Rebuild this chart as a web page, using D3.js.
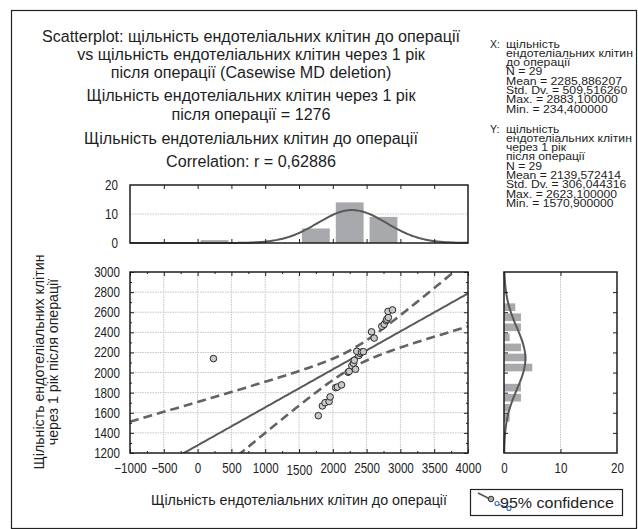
<!DOCTYPE html>
<html lang="uk">
<head>
<meta charset="UTF-8">
<title>Scatterplot</title>
<script src="https://cdn.jsdelivr.net/npm/d3@7"></script>
<style>
  body { margin: 0; background: #fff; }
  text { font-family: "Liberation Sans", Arial, sans-serif; fill: #1e1e1e; }
</style>
</head>
<body>
<div id="container"></div>
<script>
// ---- text content ----
const titleLines = [
  "Scatterplot: щільність ендотеліальних клітин до операції",
  "vs щільність ендотеліальних клітин через 1 рік",
  "після операції (Casewise MD deletion)",
  "Щільність ендотеліальних клітин через 1 рік",
  "після операції = 1276",
  "Щільність ендотеліальних клітин до операції",
  "Correlation: r = 0,62886"
];
const xStatsLines = ["щільність", "ендотеліальних клітин", "до операції", "N = 29",
  "Mean = 2285,886207", "Std. Dv. = 509,516260", "Max. = 2883,100000", "Min. = 234,400000"];
const yStatsLines = ["щільність", "ендотеліальних клітин", "через 1 рік", "після операції", "N = 29",
  "Mean = 2139,572414", "Std. Dv. = 306,044316", "Max. = 2623,100000", "Min. = 1570,900000"];
const xAxisTitle = "Щільність ендотеліальних клітин до операції";
const yAxisTitleLines = ["Щільність ендотеліальних клітин", "через 1 рік після операції"];
const legendLabel = "95% confidence";

// ---- ticks ----
const xTicks = [-1000, -500, 0, 500, 1000, 1500, 2000, 2500, 3000, 3500, 4000];
const yTicks = [1200, 1400, 1600, 1800, 2000, 2200, 2400, 2600, 2800, 3000];
const countTicks = [0, 10, 20];

// ---- cases: density before surgery (x) and 1 year after (y) ----
const preOp  = [234.4, 1786, 1846, 1885, 1945, 1960, 2043, 2068, 2129, 2226, 2242, 2281, 2306, 2336, 2318,
                2385, 2402, 2355, 2425, 2452, 2612, 2573, 2725, 2760, 2790, 2800, 2822, 2817, 2883.1];
const postOp = [2139, 1571, 1668, 1700, 1712, 1758, 1850, 1856, 1877, 2003, 2012, 2068, 2092, 2033, 2122,
                2170, 2192, 2212, 2204, 2208, 2343, 2405, 2460, 2480, 2516, 2530, 2548, 2608, 2623.1];

// ---- summary statistics ----
const nCases = 29;
const meanX = 2285.886207, sdX = 509.516260;
const meanY = 2139.572414, sdY = 306.044316;
const rCorr = 0.62886;
const tCrit = 2.052;       // t(0.975, 27)
const xBinWidth = 500, yBinWidth = 100;

const W = 638, H = 529;
const svg = d3.select("#container").append("svg").attr("width", W).attr("height", H);

// outer frame
svg.append("rect").attr("x", 11.5).attr("y", 10.5).attr("width", 625).attr("height", 518)
  .attr("fill", "none").attr("stroke", "#222").attr("stroke-width", 1.2);

// stretch a block of text lines so that one reference line has the given width
function stretchBlock(sel, refNode, refWidth) {
  const k = refWidth / refNode.getComputedTextLength();
  sel.each(function () {
    const w = this.getComputedTextLength();
    d3.select(this).attr("textLength", w * k).attr("lengthAdjust", "spacingAndGlyphs");
  });
}

// ---- title ----
const titleY = [41.5, 60, 78, 100.5, 119.5, 144, 166.5];
const titleSel = svg.append("g").selectAll("text").data(titleLines).join("text")
  .attr("x", 251).attr("y", (d, i) => titleY[i])
  .attr("text-anchor", "middle").attr("font-size", 16).text(d => d);
stretchBlock(titleSel, titleSel.nodes()[0], 418);

// ---- stats blocks ----
function statsBlock(label, lines, y0) {
  const g = svg.append("g");
  g.append("text").attr("x", 490).attr("y", y0).attr("font-size", 10.5).text(label);
  const t = g.selectAll("text.line").data(lines).join("text").attr("class", "line")
    .attr("x", 506).attr("y", (d, i) => y0 + i * 9.3).attr("font-size", 10.5).text(d => d);
  return t;
}
const xs = statsBlock("X:", xStatsLines, 47.5);
const ys = statsBlock("Y:", yStatsLines, 132.5);
stretchBlock(xs, xs.nodes()[4], 116);
stretchBlock(ys, ys.nodes()[5], 115);

// ---- scales ----
const x = d3.scaleLinear().domain([-1000, 4000]).range([130, 468]);
const y = d3.scaleLinear().domain([1200, 3000]).range([453, 272]);
const hy = d3.scaleLinear().domain([0, 20]).range([243, 185]);   // top histogram counts
const hx = d3.scaleLinear().domain([0, 20]).range([504, 617]);   // right histogram counts

const boxStroke = "#1e1e1e";
const gridColor = "#c4c4c4";

function tidyAxis(g) {
  g.select(".domain").remove();
  g.selectAll(".tick line").attr("stroke", boxStroke);
  g.selectAll("text").attr("fill", "#1e1e1e").attr("font-size", 14)
    .attr("font-family", "\"Liberation Sans\", Arial, sans-serif");
}
function squeezeLabels(g, k) {
  g.selectAll("text").each(function () {
    const w = this.getComputedTextLength();
    d3.select(this).attr("textLength", w * k).attr("lengthAdjust", "spacingAndGlyphs");
  });
}
const tickK = 0.83;

// ---- main scatter plot ----
const main = svg.append("g");
main.append("g").selectAll("line.gx").data(xTicks.slice(1, -1)).join("line")
  .attr("x1", d => x(d)).attr("x2", d => x(d)).attr("y1", y(1200)).attr("y2", y(3000))
  .attr("stroke", gridColor).attr("stroke-dasharray", "1.5,1");
main.append("g").selectAll("line.gy").data(yTicks.slice(1, -1)).join("line")
  .attr("x1", x(-1000)).attr("x2", x(4000)).attr("y1", d => y(d)).attr("y2", d => y(d))
  .attr("stroke", gridColor).attr("stroke-dasharray", "1.5,1");

const minorX = d3.range(-750, 4000, 500);
const minorY = d3.range(1300, 3000, 200);

const gxB = main.append("g").attr("transform", `translate(0,${y(1200)})`)
  .call(d3.axisBottom(x).tickValues(xTicks).tickFormat(d3.format("d")).tickSizeInner(-4).tickSizeOuter(0).tickPadding(10));
tidyAxis(gxB); squeezeLabels(gxB, tickK);
gxB.selectAll(".tick text").filter(d => d === 1500).attr("dy", "0.85em");
const gyL = main.append("g").attr("transform", `translate(${x(-1000)},0)`)
  .call(d3.axisLeft(y).tickValues(yTicks).tickFormat(d3.format("d")).tickSizeInner(-4).tickSizeOuter(0).tickPadding(10));
tidyAxis(gyL); squeezeLabels(gyL, tickK);
[[d3.axisTop(x).tickValues(xTicks), `translate(0,${y(3000)})`],
 [d3.axisRight(y).tickValues(yTicks), `translate(${x(4000)},0)`],
 [d3.axisBottom(x).tickValues(minorX), `translate(0,${y(1200)})`, 2],
 [d3.axisTop(x).tickValues(minorX), `translate(0,${y(3000)})`, 2],
 [d3.axisLeft(y).tickValues(minorY), `translate(${x(-1000)},0)`, 2],
 [d3.axisRight(y).tickValues(minorY), `translate(${x(4000)},0)`, 2]
].forEach(([ax, tr, len]) => {
  const g = main.append("g").attr("transform", tr)
    .call(ax.tickFormat("").tickSizeInner(-(len || 4)).tickSizeOuter(0));
  tidyAxis(g);
});

// clip for lines
svg.append("defs").append("clipPath").attr("id", "plotClip").append("rect")
  .attr("x", x(-1000)).attr("y", y(3000)).attr("width", x(4000) - x(-1000)).attr("height", y(1200) - y(3000));

// regression and 95% confidence band
const slope = rCorr * sdY / sdX;
const intercept = meanY - slope * meanX;
const sxx = (nCases - 1) * sdX * sdX;
const sRes = sdY * Math.sqrt(1 - rCorr * rCorr) * Math.sqrt((nCases - 1) / (nCases - 2));
const band = v => tCrit * sRes * Math.sqrt(1 / nCases + (v - meanX) * (v - meanX) / sxx);
const xs2 = d3.range(-1000, 4000.1, 25);
const fitLine = d3.line().x(d => x(d[0])).y(d => y(d[1]));
const lines = main.append("g").attr("clip-path", "url(#plotClip)");
lines.append("path").attr("d", fitLine(xs2.map(v => [v, intercept + slope * v])))
  .attr("fill", "none").attr("stroke", "#5a5a5a").attr("stroke-width", 2);
[1, -1].forEach(sgn => {
  lines.append("path").attr("d", fitLine(xs2.map(v => [v, intercept + slope * v + sgn * band(v)])))
    .attr("fill", "none").attr("stroke", "#636363").attr("stroke-width", 2.6).attr("stroke-dasharray", "9,5");
});

// points
main.append("g").selectAll("circle").data(preOp.map((v, i) => [v, postOp[i]])).join("circle")
  .attr("cx", d => x(d[0])).attr("cy", d => y(d[1])).attr("r", 3.3)
  .attr("fill", "#c9c9c9").attr("stroke", "#2a2a2a").attr("stroke-width", 1);

main.append("rect").attr("x", x(-1000)).attr("y", y(3000))
  .attr("width", x(4000) - x(-1000)).attr("height", y(1200) - y(3000))
  .attr("fill", "none").attr("stroke", boxStroke).attr("stroke-width", 1.5);

// normal density scaled to counts
const normPdf = (v, m, s) => Math.exp(-0.5 * ((v - m) / s) ** 2) / (s * Math.sqrt(2 * Math.PI));

// ---- top histogram (x) ----
const topHist = svg.append("g");
topHist.append("line").attr("x1", x(-1000)).attr("x2", x(4000)).attr("y1", hy(10)).attr("y2", hy(10))
  .attr("stroke", gridColor).attr("stroke-dasharray", "1.5,1");
const xBins = d3.bin().domain([-1000, 4000]).thresholds(d3.range(-1000, 4000, xBinWidth))(preOp);
topHist.append("g").selectAll("rect").data(xBins.filter(b => b.length)).join("rect")
  .attr("x", b => x(b.x0) + 3).attr("width", b => x(b.x1) - x(b.x0) - 6)
  .attr("y", b => hy(b.length)).attr("height", b => hy(0) - hy(b.length))
  .attr("fill", "#a8a9ac");
topHist.append("path")
  .attr("d", d3.line().x(d => x(d)).y(d => hy(nCases * xBinWidth * normPdf(d, meanX, sdX)))(d3.range(-1000, 4000.1, 20)))
  .attr("fill", "none").attr("stroke", "#595959").attr("stroke-width", 2);
const gtL = topHist.append("g").attr("transform", `translate(${x(-1000)},0)`)
  .call(d3.axisLeft(hy).tickValues(countTicks).tickSize(0).tickPadding(12));
tidyAxis(gtL); squeezeLabels(gtL, tickK);
[[d3.axisBottom(x), `translate(0,${hy(0)})`], [d3.axisTop(x), `translate(0,${hy(20)})`]].forEach(([ax, tr]) => {
  const g = topHist.append("g").attr("transform", tr)
    .call(ax.tickValues(xTicks.slice(1, -1)).tickFormat("").tickSizeInner(-4).tickSizeOuter(0));
  tidyAxis(g);
});
topHist.append("rect").attr("x", x(-1000)).attr("y", hy(20)).attr("width", x(4000) - x(-1000))
  .attr("height", hy(0) - hy(20)).attr("fill", "none").attr("stroke", boxStroke).attr("stroke-width", 1.5);

// ---- right histogram (y) ----
const side = svg.append("g");
side.append("line").attr("x1", hx(10)).attr("x2", hx(10)).attr("y1", y(1200)).attr("y2", y(3000))
  .attr("stroke", gridColor).attr("stroke-dasharray", "1.5,1");
const yBins = d3.bin().domain([1200, 3000]).thresholds(d3.range(1200, 3000, yBinWidth))(postOp);
side.append("g").selectAll("rect").data(yBins.filter(b => b.length)).join("rect")
  .attr("x", hx(0)).attr("width", b => hx(b.length) - hx(0))
  .attr("y", b => y(b.x1) + 1.2).attr("height", b => y(b.x0) - y(b.x1) - 2.4)
  .attr("fill", "#a8a9ac");
side.append("path")
  .attr("d", d3.line().x(d => hx(nCases * yBinWidth * normPdf(d, meanY, sdY))).y(d => y(d))(d3.range(1200, 3000.1, 10)))
  .attr("fill", "none").attr("stroke", "#595959").attr("stroke-width", 2);
const gsB = side.append("g").attr("transform", `translate(0,${y(1200)})`)
  .call(d3.axisBottom(hx).tickValues(countTicks).tickSizeInner(-4).tickSizeOuter(0).tickPadding(10));
tidyAxis(gsB); squeezeLabels(gsB, tickK);
gsB.selectAll(".tick line").filter(d => d !== 10).remove();
const gsT = side.append("g").attr("transform", `translate(0,${y(3000)})`)
  .call(d3.axisTop(hx).tickValues([10]).tickFormat("").tickSizeInner(-4).tickSizeOuter(0));
tidyAxis(gsT);
[[d3.axisLeft(y), `translate(${hx(0)},0)`], [d3.axisRight(y), `translate(${hx(20)},0)`]].forEach(([ax, tr]) => {
  const g = side.append("g").attr("transform", tr)
    .call(ax.tickValues(yTicks.slice(1, -1)).tickFormat("").tickSizeInner(-4).tickSizeOuter(0));
  tidyAxis(g);
});
side.append("rect").attr("x", hx(0)).attr("y", y(3000)).attr("width", hx(20) - hx(0))
  .attr("height", y(1200) - y(3000)).attr("fill", "none").attr("stroke", boxStroke).attr("stroke-width", 1.5);

// ---- axis titles ----
const xt = svg.append("text").attr("x", 299).attr("y", 505).attr("text-anchor", "middle")
  .attr("font-size", 14.5).text(xAxisTitle);
stretchBlock(xt, xt.node(), 296);
const ytSel = svg.append("g").selectAll("text").data(yAxisTitleLines).join("text")
  .attr("transform", (d, i) => `translate(${i ? 58 : 44},362) rotate(-90)`)
  .attr("text-anchor", "middle").attr("font-size", 14.5).text(d => d);
stretchBlock(ytSel, ytSel.nodes()[0], 215);

// ---- legend ----
const lg = svg.append("g");
lg.append("rect").attr("x", 470.5).attr("y", 489.5).attr("width", 152).attr("height", 26)
  .attr("fill", "#fff").attr("stroke", "#222").attr("stroke-width", 1.2);
lg.append("line").attr("x1", 478).attr("y1", 493).attr("x2", 492).attr("y2", 500)
  .attr("stroke", "#555").attr("stroke-width", 1.6);
lg.append("line").attr("x1", 495).attr("y1", 503).attr("x2", 509).attr("y2", 508)
  .attr("stroke", "#3b6cc0").attr("stroke-width", 1.2);
lg.append("circle").attr("cx", 491).attr("cy", 499).attr("r", 2.8)
  .attr("fill", "#a9a9a9").attr("stroke", "#333").attr("stroke-width", 1);
[[497, 503.5], [509, 508.5]].forEach(([cx, cy]) => lg.append("circle").attr("cx", cx).attr("cy", cy)
  .attr("r", 2).attr("fill", "#fff").attr("stroke", "#3b6cc0").attr("stroke-width", 1.1));
const lt = lg.append("text").attr("x", 500).attr("y", 507.5).attr("font-size", 14.5).text(legendLabel);
stretchBlock(lt, lt.node(), 114);
</script>
</body>
</html>
